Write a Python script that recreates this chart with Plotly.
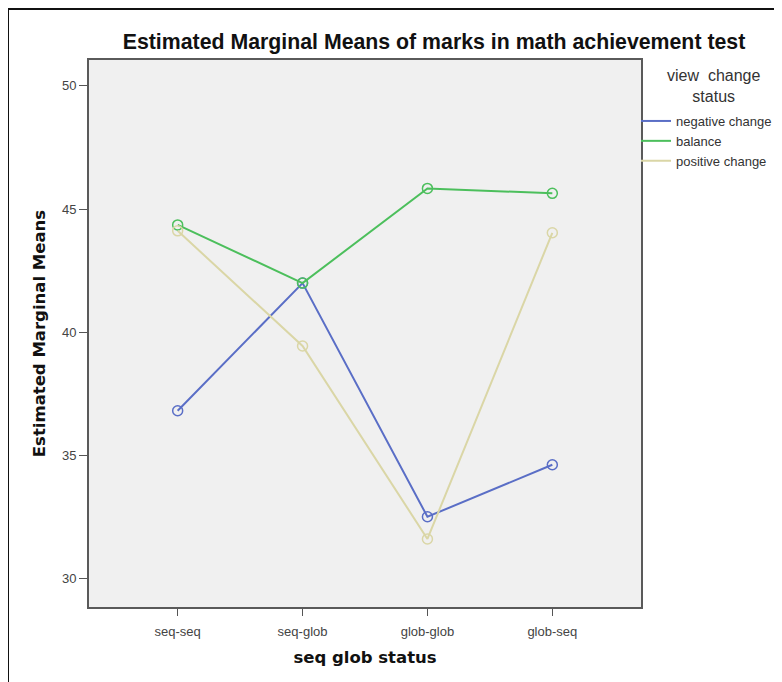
import plotly.graph_objects as go

categories = ["seq-seq", "seq-glob", "glob-glob", "glob-seq"]
series_names = ["negative change", "balance", "positive change"]
negative_change = [36.82, 42.0, 32.52, 34.63]
balance = [44.36, 42.0, 45.84, 45.64]
positive_change = [44.12, 39.45, 31.62, 44.04]
y_ticks = [30, 35, 40, 45, 50]

colors = ["#5a6ec6", "#4cbf5c", "#dad6a6"]
values = [negative_change, balance, positive_change]

# the page body adds an 8px offset; figure sized to fit the window
OFF = 8
W, H = 782 - OFF, 682 - OFF
L, T = 89 - OFF, 60 - OFF
R = W - (641 - OFF)
B = H - (607 - OFF)
pw, ph = W - L - R, H - T - B


def px(x):
    return (x - OFF - L) / pw


def py(y):
    return (H - B - (y - OFF)) / ph


fig = go.Figure()
xi = list(range(len(categories)))
for name, vals, c in zip(series_names, values, colors):
    fig.add_trace(go.Scatter(
        x=xi, y=vals, mode="lines+markers", name=name, showlegend=False,
        line=dict(color=c, width=2),
        marker=dict(symbol="circle-open", size=10, color=c, line=dict(width=1.5, color=c)),
    ))
for name, c in zip(series_names, colors):
    fig.add_trace(go.Scatter(
        x=[None], y=[None], mode="lines", name=name,
        line=dict(color=c, width=2),
    ))

fig.update_layout(
    width=W, height=H,
    margin=dict(l=L, r=R, t=T, b=B, autoexpand=False),
    paper_bgcolor="white",
    plot_bgcolor="#f0f0f0",
    font=dict(family="Liberation Sans, Arial", size=13, color="#444"),
    title=dict(text="<b>Estimated Marginal Means of marks in math achievement test</b>",
               xref="paper", x=px(434), xanchor="center",
               yref="container", y=1 - (42 - OFF) / H, yanchor="middle",
               font=dict(size=21.3, color="#111", family="Liberation Sans, Arial")),
    xaxis=dict(
        range=[-0.71, 3.71], tickvals=xi, ticktext=categories,
        showgrid=False, zeroline=False, showline=True, mirror=True,
        linecolor="#5a5a5a", linewidth=2, ticks="outside", ticklen=7, tickcolor="#555",
        tickfont=dict(size=13, color="#444"), ticklabelstandoff=4,
        title=dict(text="<b>seq glob status</b>", standoff=14,
                   font=dict(size=16.5, color="#111", family="DejaVu Sans")),
    ),
    yaxis=dict(
        range=[28.86, 51.05], tickvals=y_ticks,
        showgrid=False, zeroline=False, showline=True, mirror=True,
        linecolor="#5a5a5a", linewidth=2, ticks="outside", ticklen=8, tickcolor="#555",
        tickfont=dict(size=13, color="#444"),
        title=dict(text="<b>Estimated Marginal Means</b>", standoff=12,
                   font=dict(size=16.5, color="#111", family="DejaVu Sans")),
    ),
    legend=dict(x=px(636), xanchor="left", y=py(106), yanchor="top",
                bgcolor="rgba(0,0,0,0)", font=dict(size=13, color="#333"),
                tracegroupgap=0, itemwidth=30),
    annotations=[dict(text="view  change<br>status", xref="paper", yref="paper",
                      x=px(713), y=py(86), xanchor="center", yanchor="middle",
                      showarrow=False, font=dict(size=16, color="#333"))],
    shapes=[
        dict(type="line", xref="paper", yref="paper", x0=px(8), x1=px(800), y0=py(9), y1=py(9),
             line=dict(color="#111", width=2)),
        dict(type="line", xref="paper", yref="paper", x0=px(8), x1=px(8), y0=py(9), y1=py(700),
             line=dict(color="#111", width=2)),
    ],
)

fig.write_html("out.html")
